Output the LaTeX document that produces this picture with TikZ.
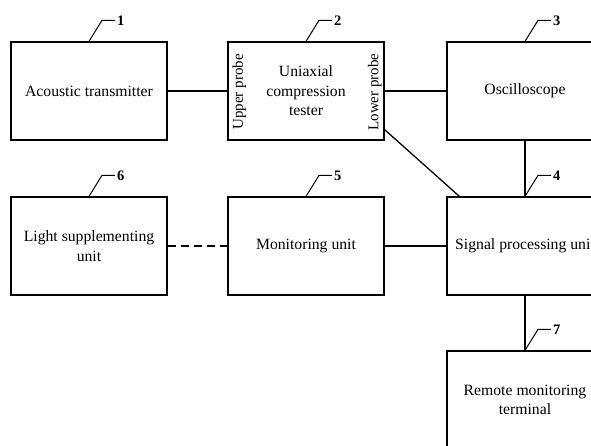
\documentclass[tikz,border=0pt]{standalone}
\usepackage{fontspec}
\setmainfont{Liberation Serif}
\usetikzlibrary{calc}

\tikzset{
    unit/.style={draw, line width=1.3pt, minimum width=156pt, minimum height=98pt,
        align=center, inner sep=2pt, font=\fontsize{15.7}{19.5}\selectfont},
    probe/.style={rotate=90, inner sep=0pt, font=\fontsize{15}{18}\selectfont},
    link/.style={line width=1.3pt},
    tag/.style={anchor=west, inner sep=1.5pt, font=\bfseries\fontsize{14.5}{16}\selectfont}
}
% leader line from a box top to its number
\newcommand{\leader}[2]{%
    \draw[line width=1pt] (#1.north) -- ++(13,-21) -- ++(13,0) node[tag] {#2};}

\begin{document}
\begin{tikzpicture}[x=1pt, y=-1pt]
    \useasboundingbox (0,0) rectangle (591,445);
    \clip (0,0) rectangle (591,445);
    % top row
    \node[unit] (transmitter) at (89,91) {Acoustic transmitter};
    \node[unit] (tester) at (306,91) {Uniaxial\\compression\\tester};
    \node[unit] (scope) at (525,91) {Oscilloscope};
    \node[probe] (upper) at ($(tester.west)+(12,1)$) {Upper probe};
    \node[probe] (lower) at ($(tester.east)+(-10,1)$) {Lower probe};
    % middle row
    \node[unit] (lighting) at (89,246) {Light supplementing\\unit};
    \node[unit] (monitor) at (306,246) {Monitoring unit};
    \node[unit] (processor) at (525,246) {Signal processing unit};
    % bottom
    \node[unit] (terminal) at (525,400) {Remote monitoring\\terminal};

    \draw[link] (transmitter.east) -- (tester.west);
    \draw[link] (tester.east) -- (scope.west);
    \draw[link] (scope.south) -- (processor.north);
    \draw[link] ($(tester.south east)+(0,-11)$) -- ($(processor.north west)+(13,0)$);
    \draw[link, dash pattern=on 8pt off 5pt] (lighting.east) -- (monitor.west);
    \draw[link] (monitor.east) -- (processor.west);
    \draw[link] (processor.south) -- (terminal.north);

    \leader{transmitter}{1}
    \leader{tester}{2}
    \leader{scope}{3}
    \leader{processor}{4}
    \leader{monitor}{5}
    \leader{lighting}{6}
    \leader{terminal}{7}
\end{tikzpicture}
\end{document}
